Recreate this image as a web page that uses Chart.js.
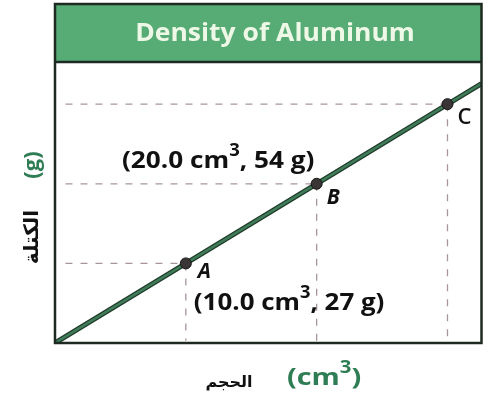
<!DOCTYPE html>
<html>
<head>
<meta charset="utf-8">
<script src="https://cdn.jsdelivr.net/npm/chart.js@4"></script>
<style>
  body { margin: 0; background: #ffffff; }
  #wrap { width: 488px; height: 399px; }
</style>
</head>
<body>
<div id="wrap"><canvas id="density-chart" width="488" height="399"></canvas></div>
<script>
// values
const pointNames = ["A", "B", "C"];
const volumes = [10.0, 20.0, 30.0];   // cm3
const masses = [27, 54, 81];          // g
const lineVolumes = [0, 32.6];        // the drawn line runs past C to the frame edge
const lineMasses = [0, 88];
const xMax = 32.6;
const yMax = 95.3;
const guideStart = 0.8;               // dashed guides start just right of the y edge

const chartTitle = "Density of Aluminum";
const yLabelWord = "الكتلة";
const yLabelUnit = "(g)";
const xLabelWord = "الحجم";

const GREEN = "#57ab74";
const DARK = "#1d2a21";
const GUIDE = "#a8959b";
const UNIT_GREEN = "#2f7d55";

// build datasets
const pointData = volumes.map((v, i) => ({ x: v, y: masses[i] }));
const lineData = lineVolumes.map((v, i) => ({ x: v, y: lineMasses[i] }));

const guideSets = [];
volumes.forEach((v, i) => {
  guideSets.push({
    data: [{ x: guideStart, y: masses[i] }, { x: v, y: masses[i] }],
    showLine: true, borderColor: GUIDE, borderWidth: 1.3, borderDash: [7, 8],
    pointRadius: 0
  });
  guideSets.push({
    data: [{ x: v, y: masses[i] }, { x: v, y: 0.8 }],
    showLine: true, borderColor: GUIDE, borderWidth: 1.3, borderDash: [7, 8],
    pointRadius: 0
  });
});

// draw text with a superscript "3", stretched a little sideways like the print
function drawSup(ctx, parts, x, y, size, stretch) {
  ctx.save();
  ctx.translate(x, y);
  ctx.scale(stretch, 1);
  let cx = 0;
  parts.forEach((p) => {
    if (p.sup) {
      ctx.font = "bold " + Math.round(size * 0.7) + "px 'Open Sans'";
      ctx.fillText(p.t, cx, -size * 0.42);
    } else {
      ctx.font = "bold " + size + "px 'Open Sans'";
      ctx.fillText(p.t, cx, 0);
    }
    cx += ctx.measureText(p.t).width;
  });
  ctx.restore();
}

const framePlugin = {
  id: "frame",
  beforeDraw(chart) {
    const ctx = chart.ctx;
    const a = chart.chartArea;
    ctx.save();
    ctx.fillStyle = "#ffffff";
    ctx.fillRect(0, 0, chart.width, chart.height);
    // header band
    ctx.fillStyle = GREEN;
    ctx.fillRect(a.left, 4, a.right - a.left, a.top - 4);
    ctx.fillStyle = "#eef8e6";
    ctx.textAlign = "center";
    ctx.textBaseline = "middle";
    ctx.translate(275, 34);
    ctx.scale(1.06, 1);
    ctx.font = "bold 25px 'Open Sans'";
    ctx.fillText(chartTitle, 0, 0);
    ctx.restore();
  },
  afterDraw(chart) {
    const ctx = chart.ctx;
    const a = chart.chartArea;
    const xs = chart.scales.x;
    const ys = chart.scales.y;
    ctx.save();
    // frame
    ctx.strokeStyle = DARK;
    ctx.lineWidth = 2.5;
    ctx.strokeRect(a.left, 4, a.right - a.left, a.bottom - 4);
    ctx.beginPath();
    ctx.moveTo(a.left, a.top);
    ctx.lineTo(a.right, a.top);
    ctx.stroke();

    const px = volumes.map((v) => xs.getPixelForValue(v));
    const py = masses.map((m) => ys.getPixelForValue(m));

    // point letters
    ctx.fillStyle = "#111111";
    ctx.textAlign = "left";
    ctx.textBaseline = "middle";
    ctx.font = "italic bold 21px 'Open Sans'";
    ctx.fillText(pointNames[0], px[0] + 12, py[0] + 9);
    ctx.fillText(pointNames[1], px[1] + 10, py[1] + 14);
    ctx.font = "600 22px 'Open Sans'";
    ctx.fillText(pointNames[2], px[2] + 10, py[2] + 14);

    // coordinate labels
    drawSup(ctx, [
      { t: "(" + volumes[1].toFixed(1) + " cm" }, { t: "3", sup: true },
      { t: ", " + masses[1] + " g)" }
    ], 122, py[1] - 23, 24, 1.09);
    drawSup(ctx, [
      { t: "(" + volumes[0].toFixed(1) + " cm" }, { t: "3", sup: true },
      { t: ", " + masses[0] + " g)" }
    ], px[0] + 8, py[0] + 40, 24, 1.08);

    // y axis title
    ctx.save();
    ctx.translate(33, 0);
    ctx.rotate(-Math.PI / 2);
    ctx.textAlign = "center";
    ctx.fillStyle = "#111111";
    ctx.font = "bold 20px 'DejaVu Sans'";
    ctx.fillText(yLabelWord, -237, 0);
    ctx.fillStyle = UNIT_GREEN;
    ctx.font = "bold 22px 'Open Sans'";
    ctx.fillText(yLabelUnit, -165, 0);
    ctx.restore();

    // x axis title
    ctx.textAlign = "center";
    ctx.fillStyle = "#111111";
    ctx.font = "bold 16px 'DejaVu Sans'";
    ctx.fillText(xLabelWord, 229, 383);
    ctx.fillStyle = UNIT_GREEN;
    ctx.textAlign = "left";
    drawSup(ctx, [{ t: "(cm" }, { t: "3", sup: true }, { t: ")" }], 287, 378, 24, 1.2);
    ctx.restore();
  }
};

new Chart(document.getElementById("density-chart"), {
  type: "scatter",
  data: {
    datasets: [
      {
        data: pointData, pointRadius: 5.5, pointBackgroundColor: "#3a3535",
        pointBorderColor: "#151515", pointBorderWidth: 1, showLine: false
      },
      {
        data: lineData, showLine: true, borderColor: "#3f7c57", borderWidth: 2.5,
        pointRadius: 0
      },
      {
        data: lineData, showLine: true, borderColor: "#1f3a2b", borderWidth: 5,
        pointRadius: 0
      },
      ...guideSets
    ]
  },
  options: {
    responsive: false,
    animation: false,
    events: [],
    layout: { padding: { left: 55, top: 62, right: 1, bottom: 56 } },
    plugins: { legend: { display: false }, tooltip: { enabled: false } },
    scales: {
      x: { type: "linear", min: 0, max: xMax, display: false },
      y: { type: "linear", min: 0, max: yMax, display: false }
    }
  },
  plugins: [framePlugin]
});
</script>
</body>
</html>
